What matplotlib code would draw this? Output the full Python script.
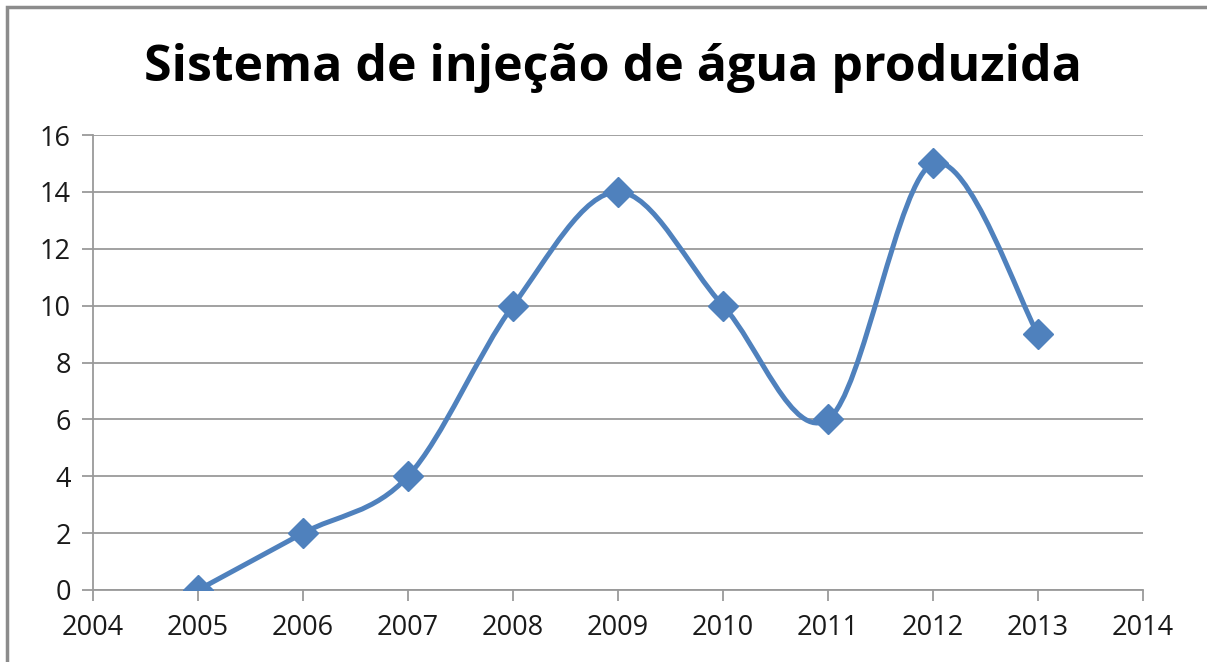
import matplotlib.pyplot as plt
import numpy as np
from matplotlib.path import Path
import matplotlib.patches as mpatches

# dados do grafico
anos = [2005, 2006, 2007, 2008, 2009, 2010, 2011, 2012, 2013]
valores = [0, 2, 4, 10, 14, 10, 6, 15, 9]
titulo = "Sistema de injeção de água produzida"
cor = "#4F81BD"

fig = plt.figure(figsize=(12.07, 6.62), dpi=100)
ax = fig.add_axes([93/1207, 1-590/662, (1143-93)/1207, (590-135)/662])

# moldura cinza (so aparece topo e esquerda)
fig.patches.append(mpatches.Rectangle((6.5/1207, -0.05), 1.1, 1-6.5/662+0.05,
                                      transform=fig.transFigure, fill=False,
                                      edgecolor="#8C8C8C", linewidth=2.5))

# curva suavizada tipo Excel (bezier pelos pontos)
x = np.array(anos, dtype=float)
y = np.array(valores, dtype=float)
n = len(x)
verts = [(x[0], y[0])]
codes = [Path.MOVETO]
for i in range(n-1):
    p0 = np.array([x[max(i-1, 0)], y[max(i-1, 0)]])
    p1 = np.array([x[i], y[i]])
    p2 = np.array([x[i+1], y[i+1]])
    p3 = np.array([x[min(i+2, n-1)], y[min(i+2, n-1)]])
    c1 = p1 + (p2 - p0)/6
    c2 = p2 - (p3 - p1)/6
    verts += [tuple(c1), tuple(c2), tuple(p2)]
    codes += [Path.CURVE4]*3
curva = mpatches.PathPatch(Path(verts, codes), fill=False, edgecolor=cor,
                           linewidth=3.6, capstyle="round", joinstyle="round", zorder=3)
ax.add_patch(curva)
ax.plot(anos, valores, linestyle="none", marker="D", markersize=15.5,
        color=cor, zorder=4)

ax.set_xlim(2004, 2014)
ax.set_ylim(0, 16)
ax.set_xticks(range(2004, 2015))
ax.set_yticks(range(0, 17, 2))
ax.grid(axis="y", color="#9A9A9A", linewidth=1.3)
ax.set_axisbelow(True)
for s in ["top", "right"]:
    ax.spines[s].set_visible(False)
ax.spines["left"].set_color("#9A9A9A")
ax.spines["bottom"].set_color("#9A9A9A")
ax.spines["left"].set_linewidth(1.3)
ax.spines["bottom"].set_linewidth(1.3)
ax.tick_params(axis="both", length=8, width=1.3, color="#9A9A9A",
               labelsize=19.5, labelcolor="#1A1A1A")
ax.tick_params(axis="y", pad=8)
ax.tick_params(axis="x", pad=9)
for lab in ax.get_xticklabels() + ax.get_yticklabels():
    lab.set_fontfamily("Open Sans")

fig.text(0.508, 1-68/662, titulo, ha="center", va="center", fontsize=36,
         fontweight="bold", family="Open Sans", color="black")

fig.savefig("out.png", dpi=100)
